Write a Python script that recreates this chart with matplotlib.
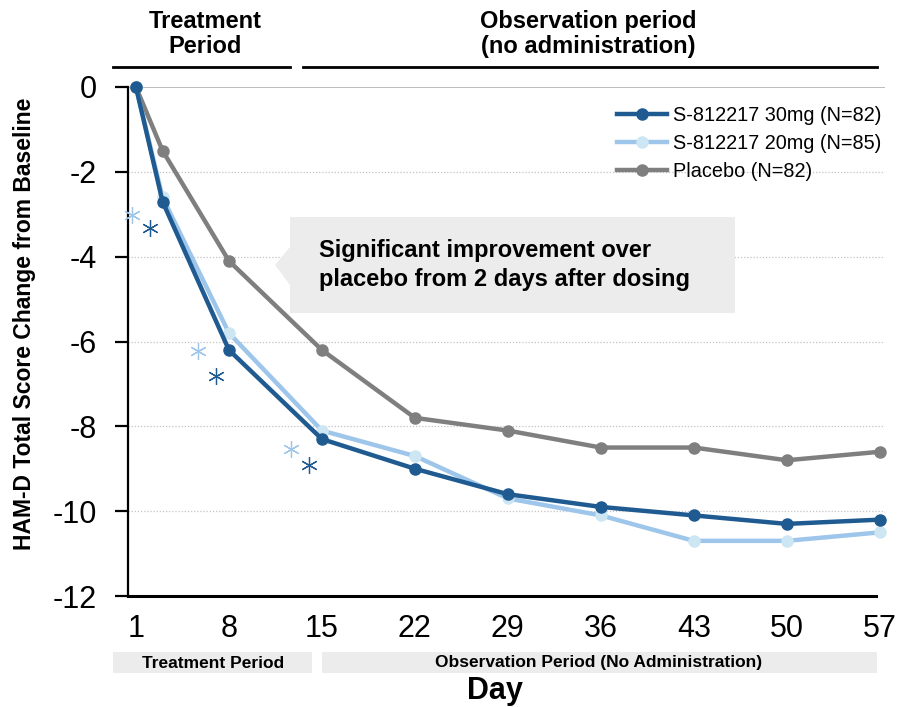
import numpy as np
import matplotlib.pyplot as plt
from matplotlib.patches import Polygon, Rectangle
from matplotlib.lines import Line2D
from matplotlib.transforms import offset_copy

plt.rcParams['font.family'] = ['Liberation Sans', 'DejaVu Sans']

# ---------- data ----------
days = [1, 3, 8, 15, 22, 29, 36, 43, 50, 57]
dose30 = [0, -2.7, -6.2, -8.3, -9.0, -9.6, -9.9, -10.1, -10.3, -10.2]
dose20 = [0, -2.6, -5.8, -8.1, -8.7, -9.7, -10.1, -10.7, -10.7, -10.5]
placebo = [0, -1.5, -4.1, -6.2, -7.8, -8.1, -8.5, -8.5, -8.8, -8.6]
labels = ['S-812217 30mg (N=82)', 'S-812217 20mg (N=85)', 'Placebo (N=82)']
sig_days = [3, 8, 15]
x_ticks = [1, 8, 15, 22, 29, 36, 43, 50, 57]
y_ticks = [0, -2, -4, -6, -8, -10, -12]

c30 = '#1f5b91'
c20_line = '#9ec5ea'
c20_mark = '#cde6f3'
cpla = '#7f7f7f'

W, H = 897, 707
fig = plt.figure(figsize=(W / 100, H / 100), dpi=100)


def fx(x):
    return x / W


def fy(y):
    return 1 - y / H


ax = fig.add_axes([fx(128), fy(596), fx(885) - fx(128), fy(87) - fy(596)])
ax.set_xlim(0.4, 57.4)
ax.set_ylim(-12, 0)

# grid
for v in y_ticks[1:-1]:
    ax.axhline(v, color='#c4c4c4', lw=0.9, ls=(0, (1, 1.5)), zorder=1)
ax.axhline(0, color='#b0b0b0', lw=1.2, zorder=1)

ax.plot(days, placebo, '-o', color=cpla, lw=3.2, ms=8, label=labels[2],
        zorder=3, clip_on=False)
ax.plot(days, dose20, '-o', color=c20_line, mfc=c20_mark, mec=c20_mark,
        lw=3.2, ms=8, label=labels[1], zorder=4, clip_on=False)
ax.plot(days, dose30, '-o', color=c30, lw=3.2, ms=8, label=labels[0],
        zorder=5, clip_on=False)

# significance asterisks, offset from each point (in pixels)
sig20 = [dose20[days.index(d)] for d in sig_days]
sig30 = [dose30[days.index(d)] for d in sig_days]
tr20 = offset_copy(ax.transData, fig=fig, x=-31, y=-18, units='dots')
tr30 = offset_copy(ax.transData, fig=fig, x=-13, y=-26, units='dots')
ax.plot(sig_days, sig20, ls='none', marker=(6, 2, 0), ms=12, mew=0.9,
        color=c20_line, transform=tr20, clip_on=False, zorder=5)
ax.plot(sig_days, sig30, ls='none', marker=(6, 2, 0), ms=12, mew=0.9,
        color=c30, transform=tr30, clip_on=False, zorder=5)

ax.set_xticks(x_ticks)
ax.set_yticks(y_ticks)
ax.set_xticklabels([str(t) for t in x_ticks], fontsize=22)
ax.set_yticklabels([str(t) for t in y_ticks], fontsize=22)
ax.tick_params(axis='x', length=0, pad=13)
ax.tick_params(axis='y', length=9.5, width=1.6, pad=13)
for s in ['top', 'right']:
    ax.spines[s].set_visible(False)
ax.spines['left'].set_linewidth(1.6)
ax.spines['bottom'].set_linewidth(2.2)
ax.spines['bottom'].set_bounds(0.4, 56.7)

ax.set_ylabel('HAM-D Total Score Change from Baseline', fontsize=16.5,
              fontweight='bold')
ax.yaxis.set_label_coords((36 - 128) / 757, 0.535)

handles, labs = ax.get_legend_handles_labels()
ax.legend(handles[::-1], labs[::-1], loc='upper right', bbox_to_anchor=(0.996, 0.962),
          frameon=False, fontsize=14.3, handlelength=2.5, handletextpad=0.35,
          labelspacing=0.45, borderaxespad=0, borderpad=0)

# callout
callout = Polygon([(fx(290), fy(217)), (fx(735), fy(217)), (fx(735), fy(313)),
                   (fx(290), fy(313)), (fx(290), fy(285)), (fx(275), fy(265)),
                   (fx(290), fy(247))], closed=True, transform=fig.transFigure,
                  facecolor='#ececec', edgecolor='none', zorder=6)
ax.add_patch(callout)
fig.text(fx(319), fy(265), 'Significant improvement over\nplacebo from 2 days after dosing',
         fontsize=17, fontweight='bold', ha='left', va='center', linespacing=1.3,
         zorder=7)

# header
fig.text(fx(205), fy(34), 'Treatment\nPeriod', fontsize=17, fontweight='bold',
         ha='center', va='center', linespacing=1.15)
fig.text(fx(588), fy(34), 'Observation period\n(no administration)', fontsize=17,
         fontweight='bold', ha='center', va='center', linespacing=1.15)
fig.add_artist(Line2D([fx(113), fx(290)], [fy(67), fy(67)], color='black', lw=2))
fig.add_artist(Line2D([fx(303), fx(877)], [fy(67), fy(67)], color='black', lw=2))

# bottom period bars
fig.add_artist(Rectangle((fx(113), fy(673)), fx(312) - fx(113), fy(652) - fy(673),
                         transform=fig.transFigure, facecolor='#ececec', edgecolor='none'))
fig.add_artist(Rectangle((fx(322), fy(673)), fx(877) - fx(322), fy(652) - fy(673),
                         transform=fig.transFigure, facecolor='#ececec', edgecolor='none'))
fig.text(fx(213), fy(663), 'Treatment Period', fontsize=12.5, fontweight='bold',
         ha='center', va='center')
fig.text(fx(599), fy(663), 'Observation Period (No Administration)', fontsize=12.5,
         fontweight='bold', ha='center', va='center')
fig.text(fx(495), fy(691), 'Day', fontsize=22, fontweight='bold', ha='center',
         va='center')

fig.savefig('out.png', dpi=100)
